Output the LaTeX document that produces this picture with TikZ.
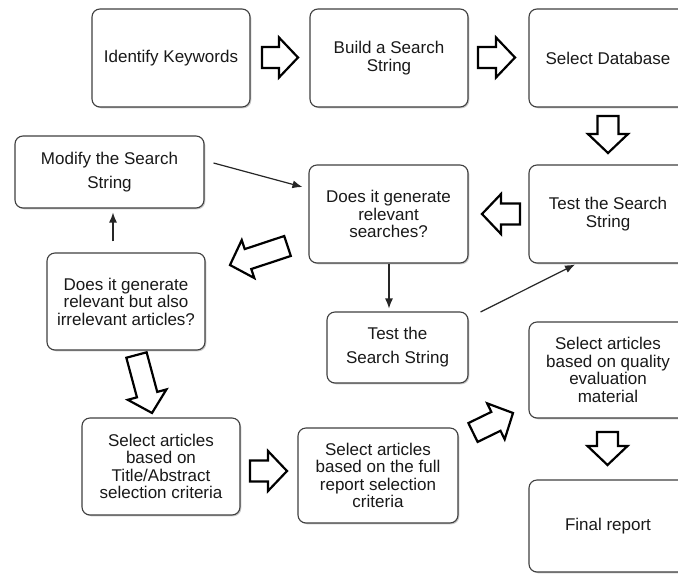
\documentclass[tikz,border=0pt]{standalone}
\usepackage{fontspec}
\setmainfont{Liberation Sans}
\usetikzlibrary{arrows.meta,shadows}
\tikzset{
  box/.style={draw=black!75, line width=1.1pt, rounded corners=8pt, fill=white,
    align=center, inner sep=2pt, text=black!90,
    font=\fontsize{17}{17.5}\selectfont,
    drop shadow={shadow xshift=1.3pt, shadow yshift=-1.3pt, opacity=0.35, fill=black!60}},
  wide/.style={font=\fontsize{17}{24}\selectfont},
  barr/.style={draw=black, line width=2.2pt, fill=white, line join=miter, miter limit=10},
  conn/.style={draw=black!85, line width=1.2pt, -{Latex[length=10pt,width=8pt]}}
}
\newcommand\blockarr[5]{%
  \begin{scope}[shift={(#2,#3)}, rotate=#4]
    \coordinate (#1) at (0,0);
    \draw[barr] ({-#5/2},-10.5) -- ({#5/2-19},-10.5) -- ({#5/2-19},-20) -- ({#5/2},0)
      -- ({#5/2-19},20) -- ({#5/2-19},10.5) -- ({-#5/2},10.5) -- cycle;
  \end{scope}}
\begin{document}
\begin{tikzpicture}[x=1pt,y=-1pt]
\useasboundingbox (0,0) rectangle (678,574);
\fill[white] (0,0) rectangle (678,574);

% boxes
\node[box, minimum width=158pt, minimum height=98pt] (id) at (171,58) {Identify Keywords};
\node[box, minimum width=158pt, minimum height=98pt] (build) at (389,58) {Build a Search\\String};
\node[box, minimum width=158pt, minimum height=98pt] (db) at (608,58) {Select Database};
\node[box, minimum width=158pt, minimum height=98pt] (testr) at (608,214) {Test the Search\\String};
\node[box, minimum width=159pt, minimum height=98pt] (does) at (388.5,214) {Does it generate\\relevant\\searches?};
\node[box, wide, minimum width=189pt, minimum height=72pt] (modify) at (109.5,172) {Modify the Search\\String};
\node[box, minimum width=158pt, minimum height=97pt] (irr) at (126,301.5) {Does it generate\\relevant but also\\irrelevant articles?};
\node[box, wide, minimum width=141pt, minimum height=71pt] (testm) at (397.5,347.5) {Test the\\Search String};
\node[box, minimum width=158pt, minimum height=96pt] (qual) at (608,370) {Select articles\\based on quality\\evaluation\\material};
\node[box, minimum width=158pt, minimum height=92pt] (final) at (608,526) {Final report};
\node[box, minimum width=160pt, minimum height=95pt] (full) at (378,475.5) {Select articles\\based on the full\\report selection\\criteria};
\node[box, minimum width=158pt, minimum height=97pt] (title) at (161,466.5) {Select articles\\based on\\Title/Abstract\\selection criteria};

% block arrows
\blockarr{a1}{280}{57.5}{0}{36}
\blockarr{a2}{496.5}{57.5}{0}{37}
\blockarr{a3}{608}{134.5}{-90}{37}
\blockarr{a4}{501}{214}{180}{38}
\blockarr{a5}{258.75}{255.5}{198.3}{60.6}
\blockarr{a6}{144.25}{384}{-75}{60}
\blockarr{a7}{268.5}{471}{0}{37}
\blockarr{a8}{493}{422.75}{26}{44.5}
\blockarr{a9}{607.5}{448.5}{-90}{33}

% thin connectors
\draw[conn] ([shift={(9,-9)}]modify.east) -- ([shift={(-6,-27)}]does.west);
\draw[conn] ([shift={(-13,-11)}]irr.north) -- ([shift={(3.5,4)}]modify.south);
\draw[conn] ([shift={(0.5,0)}]does.south) -- ([shift={(-8.5,-3)}]testm.north);
\draw[conn] ([shift={(12,-35.5)}]testm.east) -- ([shift={(-33,1)}]testr.south);
\end{tikzpicture}
\end{document}
